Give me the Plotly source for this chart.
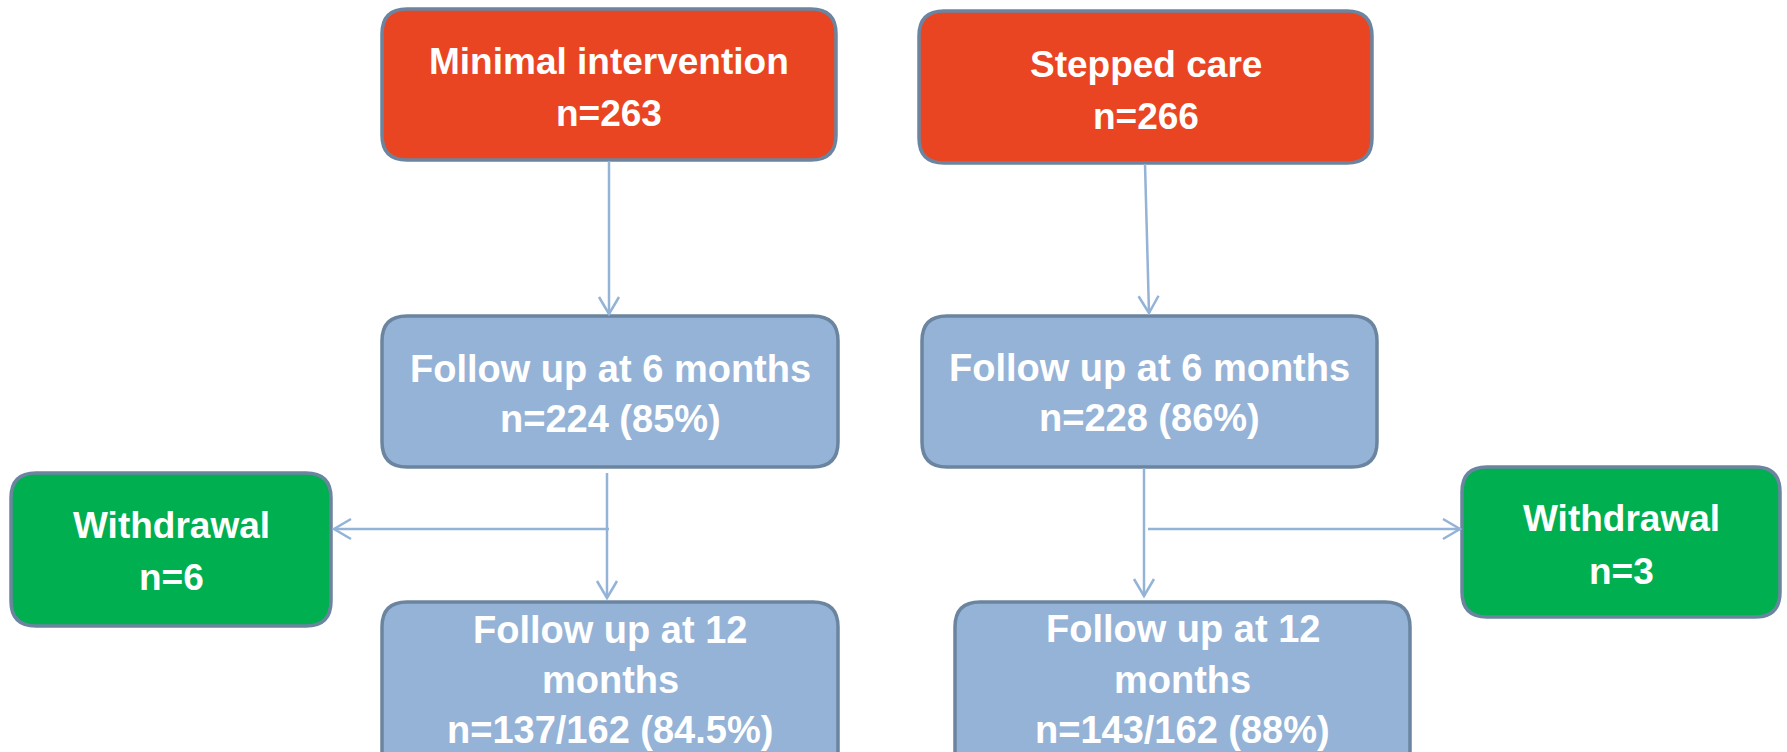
import plotly.graph_objects as go

# ---- data ----
groups = ["Minimal intervention", "Stepped care"]
randomised_n = [263, 266]
fu6_label = "Follow up at 6 months"
fu6_n = [224, 228]
fu6_pct = ["85%", "86%"]
withdrawal_label = "Withdrawal"
withdrawal_n = [6, 3]
fu12_label = ["Follow up at 12", "months"]
fu12_n = [137, 143]
fu12_total = [162, 162]
fu12_pct = ["84.5%", "88%"]

# ---- styles ----
RED = "#EA4522"
BLUE = "#95B3D7"
GREEN = "#00AF50"
BORDER = "#6B85A0"
ARROW = "#93B3D7"
FONT = "Liberation Sans, Arial, sans-serif"
W, H = 1787, 752

# ---- layout geometry (pixel space) ----
boxes = [
    # (x0, x1, y0, y1, fill, lines, line y centres, font size)
    (382, 836, 9, 160, RED, [groups[0], f"n={randomised_n[0]}"], [61, 113], 37),
    (919, 1372, 11, 163, RED, [groups[1], f"n={randomised_n[1]}"], [64, 116], 37),
    (382, 838, 316, 467, BLUE, [fu6_label, f"n={fu6_n[0]} ({fu6_pct[0]})"], [369, 419], 38),
    (922, 1377, 316, 467, BLUE, [fu6_label, f"n={fu6_n[1]} ({fu6_pct[1]})"], [368, 418], 38),
    (11, 331, 473, 626, GREEN, [withdrawal_label, f"n={withdrawal_n[0]}"], [525, 577], 37),
    (1462, 1780, 467, 617, GREEN, [withdrawal_label, f"n={withdrawal_n[1]}"], [518, 571], 37),
    (382, 838, 602, 780, BLUE,
     fu12_label + [f"n={fu12_n[0]}/{fu12_total[0]} ({fu12_pct[0]})"], [630, 680, 730], 38),
    (955, 1410, 602, 780, BLUE,
     fu12_label + [f"n={fu12_n[1]}/{fu12_total[1]} ({fu12_pct[1]})"], [629, 680, 730], 38),
]

arrows = [
    # (x0, y0, x1, y1)
    (609, 161, 609, 314),
    (1145, 164, 1149, 313),
    (607, 473, 607, 598),
    (609, 529, 334, 529),
    (1144, 468, 1144, 596),
    (1148, 529, 1460, 529),
]


def rounded_rect(x0, x1, y0, y1, r=25):
    return (f"M {x0+r},{y0} L {x1-r},{y0} Q {x1},{y0} {x1},{y0+r} "
            f"L {x1},{y1-r} Q {x1},{y1} {x1-r},{y1} L {x0+r},{y1} "
            f"Q {x0},{y1} {x0},{y1-r} L {x0},{y0+r} Q {x0},{y0} {x0+r},{y0} Z")


fig = go.Figure()
shapes = []
annotations = []

for x0, x1, y0, y1, fill, lines, ys, fs in boxes:
    shapes.append(dict(type="path", path=rounded_rect(x0, x1, y0, y1),
                       xref="x", yref="y", fillcolor=fill,
                       line=dict(color=BORDER, width=3.5), layer="above"))
    cx = (x0 + x1) / 2
    for txt, ty in zip(lines, ys):
        annotations.append(dict(x=cx, y=ty, xref="x", yref="y", text=txt,
                                showarrow=False, xanchor="center", yanchor="middle",
                                font=dict(family=FONT, size=fs, color="white",
                                          weight="bold")))

for x0, y0, x1, y1 in arrows:
    shapes.append(dict(type="line", x0=x0, y0=y0, x1=x1, y1=y1, xref="x", yref="y",
                       line=dict(color=ARROW, width=2.5), layer="above"))
    dx, dy = x1 - x0, y1 - y0
    L = (dx * dx + dy * dy) ** 0.5
    ux, uy = dx / L, dy / L
    nx, ny = -uy, ux
    back, half = 17, 10
    ax, ay = x1 - back * ux + half * nx, y1 - back * uy + half * ny
    bx, by = x1 - back * ux - half * nx, y1 - back * uy - half * ny
    shapes.append(dict(type="path",
                       path=f"M {ax},{ay} L {x1},{y1} L {bx},{by}",
                       xref="x", yref="y",
                       line=dict(color=ARROW, width=2.5), layer="above"))

fig.update_layout(
    width=W, height=H,
    margin=dict(l=0, r=0, t=0, b=0),
    paper_bgcolor="white", plot_bgcolor="white",
    xaxis=dict(range=[0, W], visible=False, fixedrange=True),
    yaxis=dict(range=[H, 0], visible=False, fixedrange=True),
    shapes=shapes, annotations=annotations, showlegend=False,
)

fig.write_html("out.html", config={"displayModeBar": False},
               post_script="document.body.style.margin='0';document.body.style.overflow='hidden';")
